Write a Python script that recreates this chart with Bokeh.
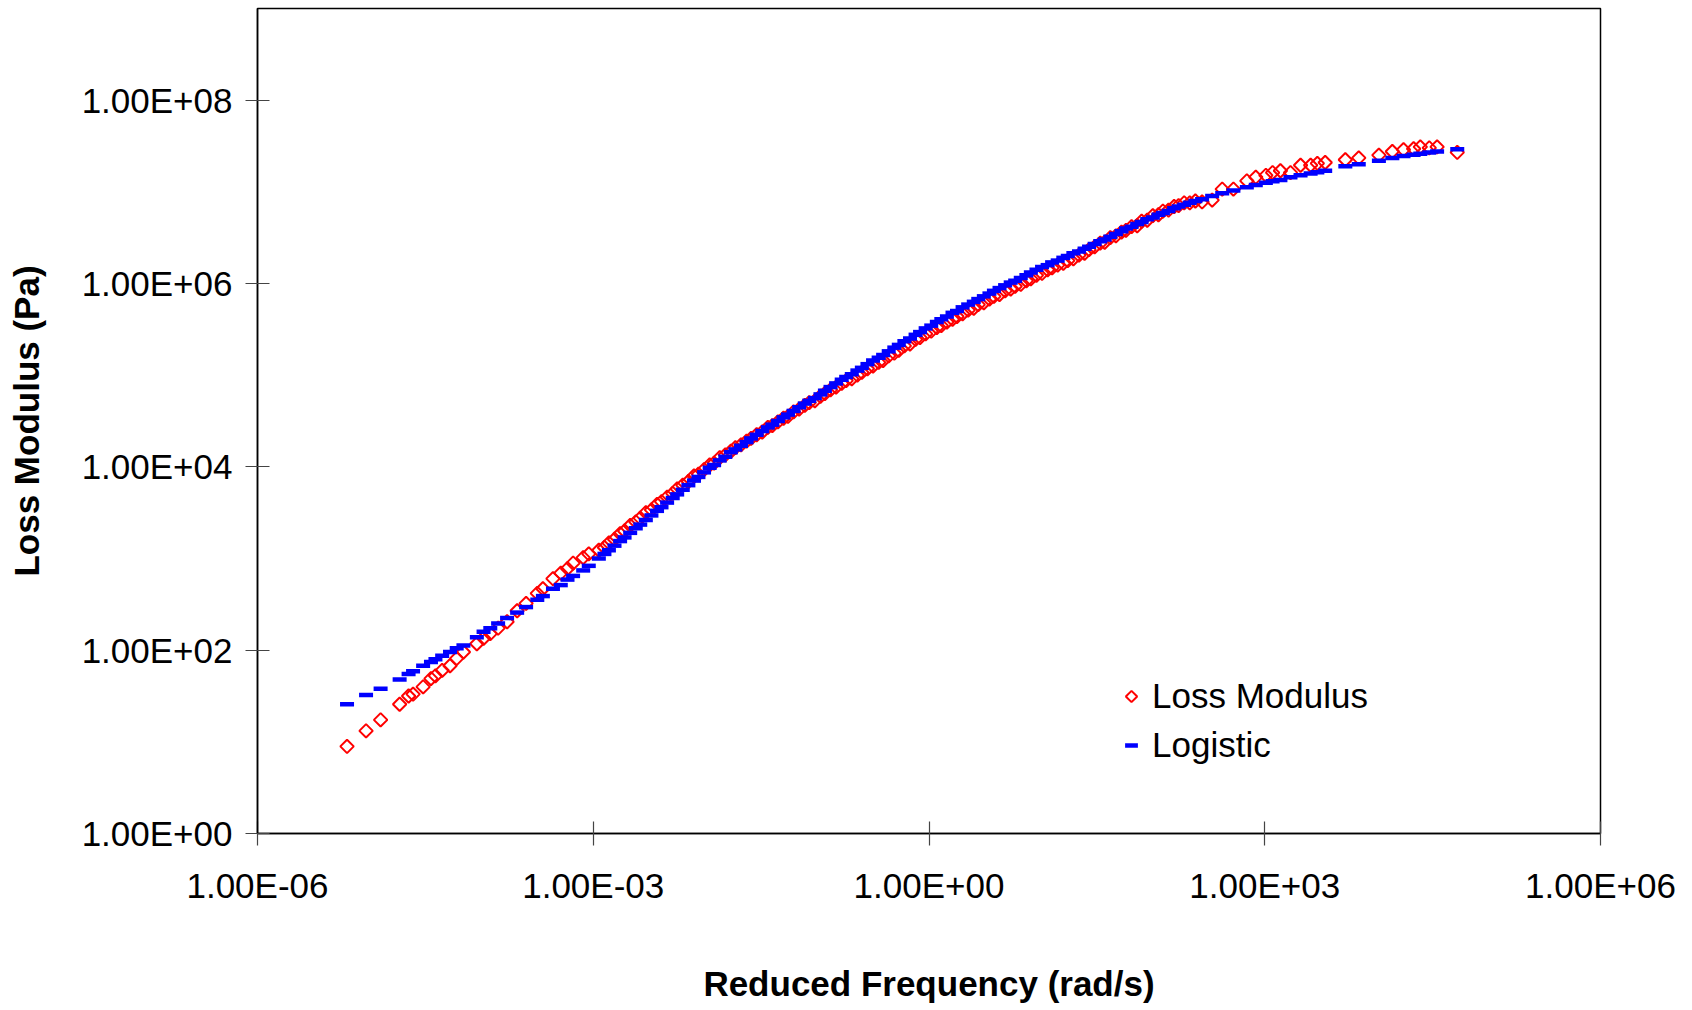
import numpy as np
from bokeh.plotting import figure
from bokeh.models import (FixedTicker, CustomJSTickFormatter, Legend, LegendItem,
                          Range1d, LinearScale)
from bokeh.embed import file_html
from bokeh.resources import INLINE

# log10 of reduced frequency (rad/s)
log_freq = [
    -5.20, -5.03, -4.90, -4.73, -4.65, -4.61, -4.52, -4.45, -4.41, -4.35,
    -4.28, -4.22, -4.16, -4.04, -3.98, -3.92, -3.85, -3.77, -3.68, -3.60,
    -3.50, -3.45, -3.36, -3.29, -3.23, -3.18, -3.09, -3.04,
    -2.95, -2.90, -2.86, -2.81, -2.76, -2.72, -2.67, -2.62, -2.58, -2.53,
    -2.48, -2.43, -2.39, -2.34, -2.29, -2.25, -2.20, -2.15, -2.10, -2.06,
    -2.01, -1.96, -1.92, -1.87, -1.82, -1.77, -1.73, -1.68, -1.63, -1.59,
    -1.54, -1.49, -1.44, -1.40, -1.35, -1.30, -1.26, -1.21, -1.16, -1.11,
    -1.07, -1.02, -0.97, -0.93, -0.88, -0.83, -0.78, -0.74, -0.69, -0.64,
    -0.60, -0.55, -0.50, -0.45, -0.41, -0.36, -0.31, -0.27, -0.22, -0.17,
    -0.12, -0.08, -0.03, 0.02, 0.07, 0.11, 0.16, 0.21, 0.25, 0.30,
    0.35, 0.40, 0.44, 0.49, 0.54, 0.58, 0.63, 0.68, 0.73, 0.77,
    0.82, 0.87, 0.91, 0.96, 1.01, 1.06, 1.10, 1.15, 1.20, 1.24,
    1.29, 1.34, 1.39, 1.43, 1.48, 1.53, 1.57, 1.62, 1.67, 1.72,
    1.76, 1.81, 1.86, 1.90, 1.95, 2.00, 2.05, 2.09, 2.14, 2.19,
    2.23, 2.28, 2.33, 2.38,
    2.44, 2.53, 2.62, 2.72, 2.84, 2.92, 3.01, 3.07, 3.14, 3.23,
    3.32, 3.41, 3.47, 3.54, 3.72, 3.84, 4.02, 4.14, 4.24, 4.33,
    4.39, 4.47, 4.54, 4.72,
]

# log10 of measured loss modulus (Pa)
log_loss_modulus = [
    0.95, 1.12, 1.24, 1.41, 1.50, 1.52, 1.60, 1.69, 1.72, 1.78,
    1.83, 1.91, 1.98, 2.07, 2.13, 2.18, 2.24, 2.31, 2.43, 2.51,
    2.62, 2.67, 2.78, 2.84, 2.89, 2.95, 3.01, 3.05,
    3.09, 3.12, 3.17, 3.21, 3.27, 3.30, 3.36, 3.40, 3.44, 3.50,
    3.53, 3.59, 3.62, 3.67, 3.71, 3.76, 3.80, 3.84, 3.90, 3.92,
    3.97, 4.02, 4.04, 4.10, 4.13, 4.17, 4.21, 4.24, 4.28, 4.31,
    4.35, 4.38, 4.43, 4.45, 4.49, 4.53, 4.55, 4.60, 4.63, 4.67,
    4.70, 4.72, 4.77, 4.80, 4.84, 4.87, 4.91, 4.94, 4.96, 5.00,
    5.03, 5.07, 5.10, 5.14, 5.16, 5.21, 5.24, 5.27, 5.32, 5.34,
    5.39, 5.41, 5.45, 5.48, 5.52, 5.54, 5.58, 5.61, 5.64, 5.67,
    5.71, 5.73, 5.77, 5.79, 5.83, 5.86, 5.88, 5.92, 5.94, 5.97,
    5.99, 6.03, 6.05, 6.09, 6.11, 6.15, 6.17, 6.20, 6.22, 6.25,
    6.27, 6.31, 6.33, 6.37, 6.40, 6.44, 6.45, 6.50, 6.52, 6.56,
    6.58, 6.62, 6.63, 6.68, 6.69, 6.74, 6.75, 6.79, 6.80, 6.84,
    6.85, 6.88, 6.88, 6.90,
    6.89, 6.91, 7.03, 7.03, 7.12, 7.16, 7.18, 7.21, 7.23, 7.21,
    7.29, 7.29, 7.31, 7.32, 7.35, 7.37, 7.40, 7.44, 7.46, 7.47,
    7.49, 7.48, 7.49, 7.43,
]

# log10 of logistic fit (Pa)
log_logistic = [
    1.41, 1.51, 1.58, 1.68, 1.74, 1.77, 1.83, 1.87, 1.90, 1.94,
    1.98, 2.02, 2.05, 2.14, 2.20, 2.24, 2.29, 2.35, 2.41, 2.47,
    2.55, 2.59, 2.67, 2.71, 2.77, 2.81, 2.87, 2.92,
    3.00, 3.05, 3.09, 3.14, 3.19, 3.23, 3.28, 3.33, 3.37, 3.42,
    3.47, 3.52, 3.56, 3.61, 3.66, 3.70, 3.75, 3.80, 3.85, 3.89,
    3.94, 3.99, 4.02, 4.07, 4.11, 4.16, 4.19, 4.23, 4.27, 4.31,
    4.35, 4.39, 4.43, 4.46, 4.50, 4.54, 4.57, 4.61, 4.65, 4.69,
    4.72, 4.75, 4.79, 4.83, 4.87, 4.91, 4.95, 4.98, 5.01, 5.05,
    5.08, 5.12, 5.16, 5.19, 5.22, 5.26, 5.30, 5.33, 5.37, 5.40,
    5.44, 5.47, 5.51, 5.54, 5.58, 5.61, 5.64, 5.68, 5.70, 5.74,
    5.77, 5.80, 5.83, 5.86, 5.89, 5.92, 5.95, 5.98, 6.01, 6.03,
    6.06, 6.09, 6.12, 6.15, 6.18, 6.20, 6.23, 6.25, 6.28, 6.30,
    6.33, 6.35, 6.38, 6.40, 6.43, 6.46, 6.48, 6.51, 6.54, 6.57,
    6.60, 6.62, 6.65, 6.67, 6.70, 6.72, 6.75, 6.77, 6.79, 6.82,
    6.84, 6.86, 6.88, 6.90,
    6.92, 6.955, 6.985, 7.015, 7.05, 7.075, 7.10, 7.115, 7.13, 7.16,
    7.18, 7.20, 7.215, 7.23, 7.28, 7.30, 7.34, 7.37, 7.39, 7.405,
    7.415, 7.43, 7.44, 7.465,
]

x_ticks = [1e-6, 1e-3, 1e0, 1e3, 1e6]
y_ticks = [1e0, 1e2, 1e4, 1e6, 1e8]
series_labels = ["Loss Modulus", "Logistic"]

freq = [10 ** v for v in log_freq]
loss_modulus = [10 ** v for v in log_loss_modulus]
logistic = [10 ** v for v in log_logistic]

FONT = "Liberation Sans"
RED = "#FF0000"
BLUE = "#0000FF"

FRAME_W, FRAME_H = 1343, 825
p = figure(
    width=1692, height=1010,
    x_axis_type="log", y_axis_type="log",
    x_range=(1e-6, 1e6), y_range=(1e0, 1e9),
    output_backend="svg", toolbar_location=None,
    min_border_left=257, min_border_right=92,
    min_border_top=8, min_border_bottom=177,
    background_fill_color="white", border_fill_color="white",
)
p.outline_line_color = "black"
p.outline_line_width = 1.5
p.xgrid.visible = False
p.ygrid.visible = False

fmt_code = """
const e = Math.round(Math.log10(tick));
const a = Math.abs(e);
return '1.00E' + (e < 0 ? '-' : '+') + (a < 10 ? '0' : '') + a;
"""

for ax, ticks in ((p.xaxis[0], x_ticks), (p.yaxis[0], y_ticks)):
    ax.ticker = FixedTicker(ticks=ticks, minor_ticks=[])
    ax.formatter = CustomJSTickFormatter(code=fmt_code)
    ax.axis_line_color = "black"
    ax.axis_line_width = 1.5
    ax.major_tick_line_color = "#444444"
    ax.major_tick_line_width = 1.2
    ax.major_tick_in = 12
    ax.major_tick_out = 12
    ax.minor_tick_line_color = None
    ax.major_label_text_font = FONT
    ax.major_label_text_font_size = "35px"
    ax.major_label_text_color = "black"
    ax.axis_label_text_font = FONT
    ax.axis_label_text_font_size = "35px"
    ax.axis_label_text_font_style = "bold"
    ax.axis_label_text_color = "black"

p.xaxis.axis_label = "Reduced Frequency (rad/s)"
p.yaxis.axis_label = "Loss Modulus (Pa)"
p.xaxis.major_label_standoff = 20
p.yaxis.major_label_standoff = 13
p.xaxis.axis_label_standoff = 56
p.yaxis.axis_label_standoff = 33

r_loss = p.scatter(freq, loss_modulus, marker="square", angle=np.pi / 4,
                   size=9.5, fill_color=None, line_color=RED, line_width=2)
r_fit = p.scatter(freq, logistic, marker="dash", size=14,
                  line_color=BLUE, line_width=4.5)

# legend layout (screen px inside the frame)
LEG_X, LEG_Y = 858, 68
GLYPH_W, ITEM_H, SPACING = 32, 40, 9

# invisible proxy for the first legend entry; its diamond key is drawn below
proxy = p.scatter(x=[], y=[], marker="dash", line_color=None, fill_color=None)

legend = Legend(
    items=[LegendItem(label=series_labels[0], renderers=[proxy]),
           LegendItem(label=series_labels[1], renderers=[r_fit])],
    location=(LEG_X, LEG_Y),
    background_fill_alpha=0, border_line_color=None,
    padding=0, margin=0, spacing=SPACING,
    glyph_width=GLYPH_W, glyph_height=34, label_height=34,
    label_standoff=5,
    label_text_font=FONT, label_text_font_size="35px", label_text_color="black",
)
p.add_layout(legend)

# diamond legend key, positioned in frame pixel coordinates
p.extra_x_ranges = {"px": Range1d(0, FRAME_W)}
p.extra_y_ranges = {"px": Range1d(0, FRAME_H)}
p.extra_x_scales = {"px": LinearScale()}
p.extra_y_scales = {"px": LinearScale()}
p.scatter(x=[LEG_X + GLYPH_W / 2], y=[LEG_Y + ITEM_H + SPACING + ITEM_H / 2],
          x_range_name="px", y_range_name="px",
          marker="square", angle=np.pi / 4, size=8,
          fill_color=None, line_color=RED, line_width=2)

open("out.html", "w").write(file_html(p, INLINE))
